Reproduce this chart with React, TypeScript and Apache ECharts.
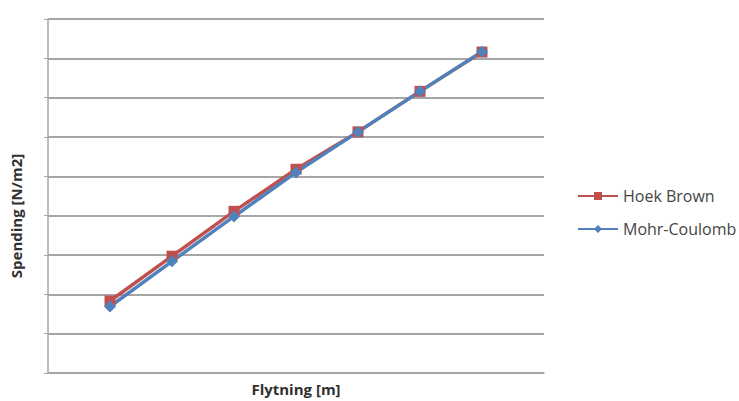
import React, { useEffect, useRef } from "react";
import * as echarts from "echarts";

const xValues = [1, 2, 3, 4, 5, 6, 7];
const hoekBrown = [1.83, 2.97, 4.11, 5.18, 6.13, 7.16, 8.16];
const mohrCoulomb = [1.69, 2.84, 3.98, 5.1, 6.13, 7.16, 8.17];
const seriesNames = ["Hoek Brown", "Mohr-Coulomb"];
const xTitle = "Flytning [m]";
const yTitle = "Spending [N/m2]";

export default function App() {
  const ref = useRef<HTMLDivElement>(null);
  useEffect(() => {
    if (!ref.current) return;
    const chart = echarts.init(ref.current, null, { renderer: "svg" });
    const font = "'Open Sans', 'Liberation Sans', sans-serif";
    chart.setOption({
      animation: false,
      backgroundColor: "#ffffff",
      textStyle: { fontFamily: font },
      grid: { left: 48, right: 195, top: 19, bottom: 27, containLabel: false },
      legend: {
        orient: "vertical",
        left: 572,
        top: 183,
        itemGap: 17,
        itemWidth: 40,
        itemHeight: 10,
        textStyle: { color: "#454545", fontSize: 16, fontFamily: font },
        data: seriesNames,
      },
      xAxis: {
        type: "value",
        min: 0,
        max: 8,
        interval: 1,
        name: xTitle,
        nameLocation: "middle",
        nameGap: 8,
        nameTextStyle: { fontSize: 15, fontWeight: "bold", color: "#303030", verticalAlign: "top" },
        axisLine: { show: true, lineStyle: { color: "#a6a6a6", width: 1.5 } },
        axisTick: { show: false },
        axisLabel: { show: false },
        splitLine: { show: false },
      },
      yAxis: {
        type: "value",
        min: 0,
        max: 9,
        interval: 1,
        name: yTitle,
        nameLocation: "middle",
        nameGap: 25,
        nameRotate: 90,
        nameTextStyle: { fontSize: 15, fontWeight: "bold", color: "#303030", padding: [0, 40, 0, 0] },
        axisLine: { show: true, lineStyle: { color: "#a6a6a6", width: 1.5 } },
        axisTick: { show: true, length: 4, lineStyle: { color: "#a6a6a6" } },
        axisLabel: { show: false },
        splitLine: { show: true, lineStyle: { color: "#a6a6a6", width: 1.8 } },
      },
      series: [
        {
          name: seriesNames[0],
          type: "line",
          data: xValues.map((x, i) => [x, hoekBrown[i]]),
          symbol: "rect",
          symbolSize: 11,
          lineStyle: { color: "#C0504D", width: 3.5 },
          itemStyle: { color: "#C0504D" },
        },
        {
          name: seriesNames[1],
          type: "line",
          data: xValues.map((x, i) => [x, mohrCoulomb[i]]),
          symbol: "diamond",
          symbolSize: 12,
          lineStyle: { color: "#4F81BD", width: 3.5 },
          itemStyle: { color: "#4F81BD" },
        },
      ],
    });
    return () => chart.dispose();
  }, []);
  return <div ref={ref} style={{ width: 739, height: 401, position: "absolute", left: 0, top: 0 }} />;
}
